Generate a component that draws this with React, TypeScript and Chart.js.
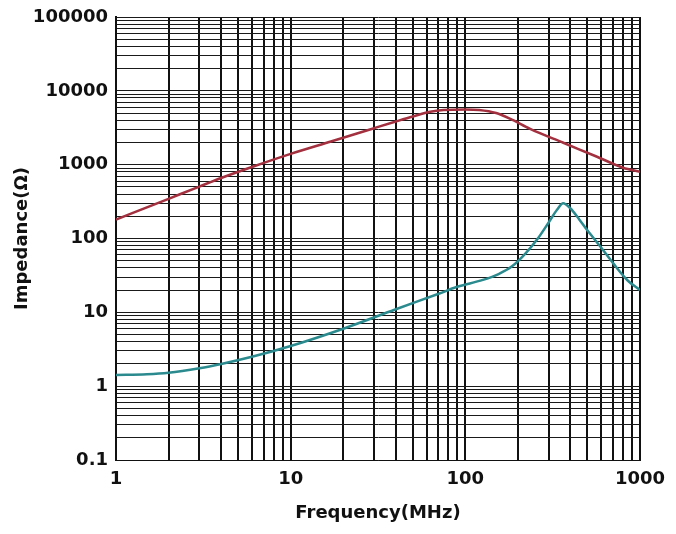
import { useEffect, useRef } from "react";
import { Chart, registerables } from "chart.js";

Chart.register(...registerables);

// Red curve (impedance Z)
const redFreqMHz = [1, 2, 3, 4, 6, 10, 17, 30, 40, 50, 63, 75, 100, 120, 150, 180, 235, 364, 563, 800, 1000];
const redImpedance = [180, 345, 505, 660, 930, 1400, 2060, 3120, 3840, 4490, 5200, 5500, 5600, 5500, 5000, 4200, 3050, 1980, 1290, 910, 800];

// Cyan curve
const cyanFreqMHz = [1, 1.5, 2, 3, 4, 6, 10, 20, 40, 71, 89, 126, 155, 185, 220, 260, 300, 335, 363, 400, 450, 497, 600, 703, 850, 1000];
const cyanImpedance = [1.42, 1.45, 1.52, 1.75, 2.0, 2.5, 3.5, 6, 11, 18, 22, 27.5, 33, 42, 62, 100, 165, 245, 300, 255, 180, 131, 75, 46, 27, 20];

// Labelled ticks (decades)
const xTickLabels = [1, 10, 100, 1000];
const yTickLabels = [0.1, 1, 10, 100, 1000, 10000, 100000];

const xTitle = "Frequency(MHz)";
const yTitle = "Impedance(Ω)";

function decadeGrid(labels: number[]): number[] {
  const out: number[] = [];
  for (let i = 0; i < labels.length - 1; i++) {
    for (let k = 1; k <= 9; k++) out.push(Number((labels[i] * k).toPrecision(10)));
  }
  out.push(labels[labels.length - 1]);
  return out;
}

const FONT = { family: "'DejaVu Sans', sans-serif", size: 18, weight: "bold" as const };

function zeroPad(s: any) {
  s.paddingTop = 0;
  s.paddingBottom = 0;
  s.paddingLeft = 0;
  s.paddingRight = 0;
}

export default function App() {
  const ref = useRef<HTMLCanvasElement | null>(null);

  useEffect(() => {
    if (!ref.current) return;
    const xGrid = decadeGrid(xTickLabels);
    const yGrid = decadeGrid(yTickLabels);
    const chart = new Chart(ref.current, {
      type: "line",
      data: {
        datasets: [
          {
            data: redFreqMHz.map((f, i) => ({ x: f, y: redImpedance[i] })),
            borderColor: "#a3303e",
            borderWidth: 2.5,
            pointRadius: 0,
            cubicInterpolationMode: "monotone",
            fill: false,
          },
          {
            data: cyanFreqMHz.map((f, i) => ({ x: f, y: cyanImpedance[i] })),
            borderColor: "#2a8a8e",
            borderWidth: 2.5,
            pointRadius: 0,
            cubicInterpolationMode: "monotone",
            fill: false,
          },
        ],
      },
      options: {
        animation: false,
        responsive: false,
        maintainAspectRatio: false,
        layout: { padding: { top: 9, right: 28, left: 0, bottom: 0 } },
        plugins: { legend: { display: false }, tooltip: { enabled: false } },
        scales: {
          x: {
            type: "logarithmic",
            min: 1,
            max: 1000,
            afterBuildTicks: (s: any) => {
              s.ticks = xGrid.map((v) => ({ value: v }));
            },
            afterFit: (s: any) => {
              s.height = 66;
              zeroPad(s);
            },
            ticks: {
              autoSkip: false,
              maxRotation: 0,
              padding: 9,
              color: "#111",
              font: FONT,
              callback: (v: any) => (xTickLabels.includes(Number(v)) ? String(v) : ""),
            },
            grid: { color: "#111", lineWidth: 2, drawTicks: false },
            border: { display: true, color: "#111", width: 1 },
            title: {
              display: true,
              text: xTitle,
              color: "#111",
              font: FONT,
              padding: { top: 0, bottom: 2 },
            },
          },
          y: {
            type: "logarithmic",
            min: 0.1,
            max: 100000,
            afterBuildTicks: (s: any) => {
              s.ticks = yGrid.map((v) => ({ value: v }));
            },
            afterFit: (s: any) => {
              s.width = 108;
              zeroPad(s);
            },
            ticks: {
              autoSkip: false,
              padding: 8,
              color: "#111",
              font: FONT,
              callback: (v: any) => (yTickLabels.includes(Number(v)) ? String(v) : ""),
            },
            grid: { color: "#1a1a1a", lineWidth: 1, drawTicks: false },
            border: { display: true, color: "#111", width: 2 },
            title: {
              display: true,
              text: yTitle,
              color: "#111",
              font: FONT,
              padding: { top: 4, bottom: 0 },
            },
          },
        },
      },
    });
    return () => chart.destroy();
  }, []);

  return (
    <div style={{ width: 660, height: 518 }}>
      <canvas ref={ref} width={660} height={518} />
    </div>
  );
}
